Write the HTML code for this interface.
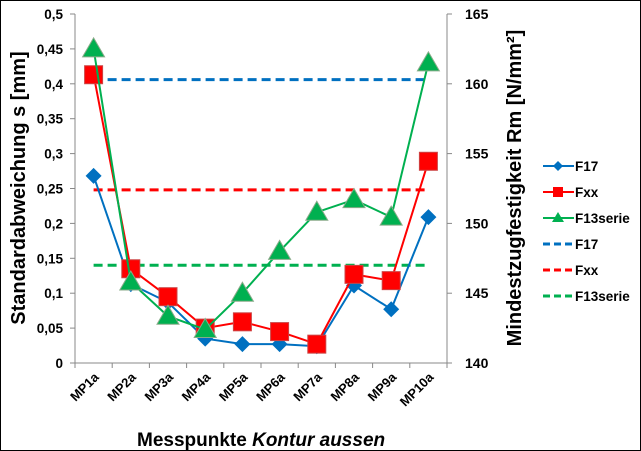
<!DOCTYPE html>
<html><head><meta charset="utf-8"><style>
body{margin:0;background:#fff}
svg{display:block;font-family:"Liberation Sans",sans-serif}
</style></head><body>
<svg id="c" width="641" height="451" viewBox="0 0 641 451">
<rect x="0.5" y="0.5" width="640" height="450" fill="#fff" stroke="#000"/>
<g id="axes"></g><g id="marks"></g><g id="legend"></g>
<text x="137" y="446" font-size="19" font-weight="bold">Messpunkte <tspan font-style="italic">Kontur aussen</tspan></text>
<text transform="translate(25,188) rotate(-90)" text-anchor="middle" font-size="20" font-weight="bold">Standardabweichung s [mm]</text>
<text transform="translate(521,188) rotate(-90)" text-anchor="middle" font-size="20" font-weight="bold">Mindestzugfestigkeit Rm [N/mm²]</text>
</svg>
<script>
const categories=["MP1a","MP2a","MP3a","MP4a","MP5a","MP6a","MP7a","MP8a","MP9a","MP10a"];
const f17=[0.268,0.113,0.087,0.035,0.027,0.027,0.024,0.111,0.077,0.209];
const fxx=[0.413,0.135,0.095,0.050,0.059,0.045,0.027,0.127,0.118,0.289];
const f13=[0.450,0.116,0.067,0.048,0.100,0.160,0.216,0.234,0.209,0.430];
const rmF17=160.3, rmFxx=152.4, rmF13=147.0;
const leftTicks=["0","0,05","0,1","0,15","0,2","0,25","0,3","0,35","0,4","0,45","0,5"];
const rightTicks=[140,145,150,155,160,165];
const NS="http://www.w3.org/2000/svg";
const X0=75,X1=447,Y0=363,Y1=14;
const xs=i=>X0+(X1-X0)/categories.length*(i+0.5);
const yl=v=>Y0-(Y0-Y1)*v/0.5;
const yr=v=>Y0-(Y0-Y1)*(v-140)/25;
function mk(p,t,a){const e=document.createElementNS(NS,t);for(const k in a)e.setAttribute(k,a[k]);p.appendChild(e);return e;}
const ax=document.getElementById('axes'),mg=document.getElementById('marks'),lg=document.getElementById('legend');
let e;
e=mk(ax,'line',{x1:X0,y1:Y1,x2:X0,y2:Y0,stroke:'#888'});

e=mk(ax,'line',{x1:X1,y1:Y1,x2:X1,y2:Y0,stroke:'#888'});

e=mk(ax,'line',{x1:X0,y1:Y0,x2:X1,y2:Y0,stroke:'#888'});

leftTicks.forEach((t,i)=>{const y=yl(i*0.05);
 mk(ax,'line',{x1:X0-5,y1:y,x2:X0,y2:y,stroke:'#888'});
 e=mk(ax,'text',{x:X0-12,y:y+5,'text-anchor':'end','font-size':13.5,'font-weight':'bold'});e.textContent=t;
 });
rightTicks.forEach(t=>{const y=yr(t);
 mk(ax,'line',{x1:X1,y1:y,x2:X1+5,y2:y,stroke:'#888'});
 e=mk(ax,'text',{x:X1+18,y:y+5,'font-size':14,'font-weight':'bold'});e.textContent=t;
 });
for(let i=0;i<=categories.length;i++){const x=X0+(X1-X0)/categories.length*i;mk(ax,'line',{x1:x,y1:Y0,x2:x,y2:Y0+5,stroke:'#888'});}
categories.forEach((c,i)=>{const x=xs(i)+6;
 e=mk(ax,'text',{transform:`translate(${x},378) rotate(-45)`,'text-anchor':'end','font-size':13,'font-weight':'bold'});e.textContent=c;
 });
function dash(v,col,name){e=mk(mg,'line',{x1:xs(0),x2:xs(categories.length-1),y1:yr(v),y2:yr(v),stroke:col,'stroke-width':3,'stroke-dasharray':'9,5'});
 }
dash(rmF17,'#0070C0','rm-f17-line');dash(rmFxx,'#FF0000','rm-fxx-line');dash(rmF13,'#00B050','rm-f13serie-line');
function marker(p,x,y,type,col){
 if(type==='d')return mk(p,'polygon',{points:`${x},${y-8} ${x+8},${y} ${x},${y+8} ${x-8},${y}`,fill:col});
 if(type==='s')return mk(p,'rect',{x:x-9,y:y-9,width:18,height:18,fill:col,stroke:'#c44',"stroke-width":1});
 return mk(p,'polygon',{points:`${x},${y-11} ${x+11},${y+8} ${x-11},${y+8}`,fill:col,stroke:'#8a8','stroke-width':1});}
function series(vals,col,type,name){
 e=mk(mg,'polyline',{points:vals.map((v,i)=>xs(i)+','+yl(v)).join(' '),fill:'none',stroke:col,'stroke-width':2});
 
 vals.forEach((v,i)=>{e=marker(mg,xs(i),yl(v),type,col);
 });}
series(f17,'#0070C0','d','f17');series(fxx,'#FF0000','s','fxx');series(f13,'#00B050','t','f13serie');
const leg=[['F17','#0070C0','d'],['Fxx','#FF0000','s'],['F13serie','#00B050','t'],['F17','#0070C0','-'],['Fxx','#FF0000','-'],['F13serie','#00B050','-']];
leg.forEach((l,i)=>{const y=166+i*26;
 const g=mk(lg,'g',{});
 
 if(l[2]==='-')mk(g,'line',{x1:543,x2:574,y1:y,y2:y,stroke:l[1],'stroke-width':3,'stroke-dasharray':'7,4'});
 else{mk(g,'line',{x1:543,x2:574,y1:y,y2:y,stroke:l[1],'stroke-width':2});
  if(l[2]==='d')mk(g,'polygon',{points:`558,${y-5} 563,${y} 558,${y+5} 553,${y}`,fill:l[1]});
  else if(l[2]==='s')mk(g,'rect',{x:553,y:y-5,width:10,height:10,fill:l[1]});
  else mk(g,'polygon',{points:`558,${y-6} 564,${y+4} 552,${y+4}`,fill:l[1]});}
 const t=mk(g,'text',{x:575,y:y+5,'font-size':13.5,'font-weight':'bold'});t.textContent=l[0];});
</script>
</body></html>
